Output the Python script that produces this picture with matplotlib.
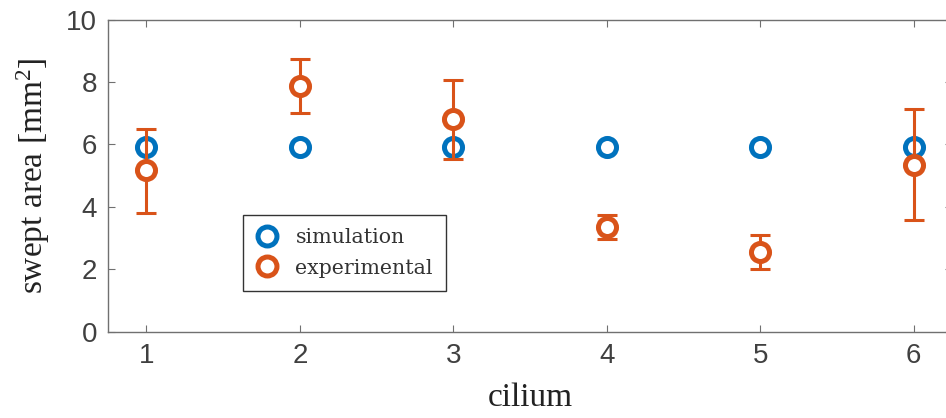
import matplotlib
matplotlib.use("Agg")
import matplotlib.pyplot as plt

plt.rcParams["mathtext.fontset"] = "custom"
plt.rcParams["mathtext.rm"] = "Liberation Serif"
plt.rcParams["mathtext.it"] = "Liberation Serif:italic"

cilium = [1, 2, 3, 4, 5, 6]
simulation = [5.92, 5.92, 5.92, 5.92, 5.92, 5.92]
experimental = [5.19, 7.88, 6.80, 3.36, 2.55, 5.33]
exp_upper = [6.48, 8.73, 8.06, 3.75, 3.08, 7.12]
exp_lower = [3.81, 7.00, 5.52, 2.98, 2.01, 3.56]
xticks = [1, 2, 3, 4, 5, 6]
yticks = [0, 2, 4, 6, 8, 10]

blue = "#0072BD"
orange = "#D95319"

fig = plt.figure(figsize=(9.46, 4.18), dpi=100)
ax = fig.add_axes([108/946, 1 - 331.5/418, (952-108)/946, (331.5-19.5)/418])

ax.plot(cilium, simulation, linestyle="none", marker="o", ms=13, mew=3.6,
        mec=blue, mfc="white", label="simulation", zorder=3)

err = [[e - l for e, l in zip(experimental, exp_lower)],
       [u - e for e, u in zip(experimental, exp_upper)]]
ax.errorbar(cilium, experimental, yerr=err, fmt="none", ecolor=orange,
            elinewidth=2.2, capsize=7, capthick=2.2, zorder=4)
ax.plot(cilium, experimental, linestyle="none", marker="o", ms=13, mew=3.6,
        mec=orange, mfc="white", label="experimental", zorder=5)

ax.set_xlim(0.75, 6.25)
ax.set_ylim(0, 10)
ax.set_xticks(xticks)
ax.set_yticks(yticks)

tick_color = "#404040"
ax.tick_params(direction="in", length=5, width=0.8, color="#707070",
               top=True, right=True, labelsize=20, labelcolor=tick_color, pad=8)
for lab in ax.get_xticklabels() + ax.get_yticklabels():
    lab.set_family("Liberation Sans")
for s in ax.spines.values():
    s.set_color("#707070")
    s.set_linewidth(1.0)

ax.set_xlabel("cilium", family="Liberation Serif", fontsize=24, color="#222222", labelpad=10)
ax.set_ylabel(r"swept area [mm$^{\mathregular{2}}$]", family="Liberation Serif", fontsize=24,
              color="#222222", labelpad=10)

leg = ax.legend(loc="lower left", bbox_to_anchor=(0.16, 0.13), frameon=True,
                fancybox=False, edgecolor="#333333", framealpha=1,
                prop={"family": "DejaVu Serif", "size": 14.8},
                handlelength=1.0, handletextpad=0.9, borderpad=0.65,
                labelspacing=0.55, borderaxespad=0, markerscale=1.05)
leg.get_frame().set_linewidth(1.0)
for t in leg.get_texts():
    t.set_color("#333333")

fig.savefig("out.png", dpi=100)
